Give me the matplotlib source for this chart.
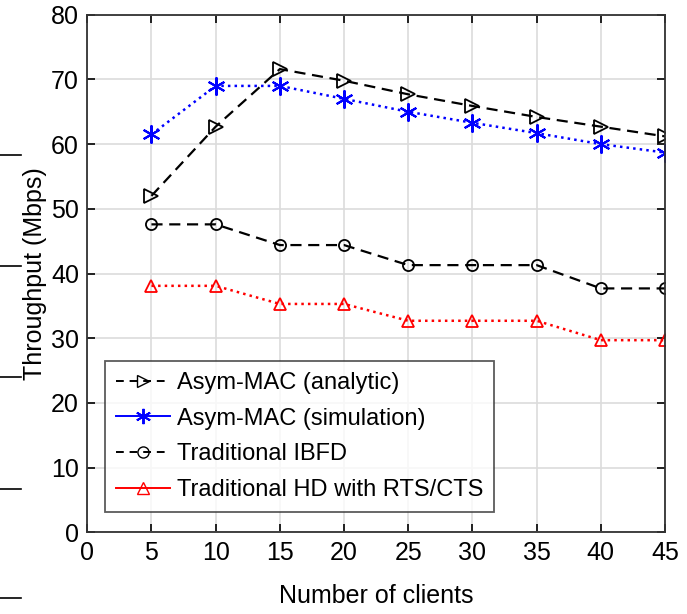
import matplotlib
matplotlib.use("Agg")
import matplotlib.pyplot as plt
from matplotlib.lines import Line2D

plt.rcParams['font.family'] = ['Liberation Sans Narrow', 'Liberation Sans', 'DejaVu Sans']

clients = [5, 10, 15, 20, 25, 30, 35, 40, 45]
asym_analytic = [52.0, 62.7, 71.6, 69.8, 67.7, 65.9, 64.2, 62.7, 61.2]
asym_sim = [61.5, 69.0, 69.0, 67.0, 65.0, 63.3, 61.7, 60.0, 58.7]
trad_ibfd = [47.6, 47.6, 44.4, 44.4, 41.3, 41.3, 41.3, 37.7, 37.7]
trad_hd = [38.1, 38.1, 35.3, 35.3, 32.7, 32.7, 32.7, 29.7, 29.7]

labels = ['Asym-MAC (analytic)', 'Asym-MAC (simulation)',
          'Traditional IBFD', 'Traditional HD with RTS/CTS']

asterisk = (6, 2, 0)

fig = plt.figure(figsize=(6.87, 6.14), dpi=100)
ax = fig.add_axes([0.127, 0.133, 0.841, 0.843])

ax.plot(clients, asym_analytic, color='black', ls=(0, (5, 3)), lw=1.6,
        marker='>', ms=10, mfc='none', mew=1.3)
ax.plot(clients, asym_sim, color='blue', ls=':', lw=1.8,
        marker=asterisk, ms=13, mfc='none', mew=1.5)
ax.plot(clients, trad_ibfd, color='black', ls=(0, (5, 3)), lw=1.6,
        marker='o', ms=8, mfc='none', mew=1.3)
ax.plot(clients, trad_hd, color='red', ls=':', lw=1.8,
        marker='^', ms=9, mfc='none', mew=1.3)

ax.set_xlim(0, 45)
ax.set_ylim(0, 80)
ax.set_xticks(range(0, 46, 5))
ax.set_yticks(range(0, 81, 10))
ax.grid(True, color='#dcdcdc', lw=1.2)
ax.set_axisbelow(True)
ax.tick_params(direction='in', top=True, right=True, length=6, width=1.2,
               labelsize=18, pad=6)
for s in ax.spines.values():
    s.set_linewidth(1.3)
    s.set_color('#333333')
ax.set_xlabel('Number of clients', fontsize=18, labelpad=14)
ax.set_ylabel('Throughput (Mbps)', fontsize=18, labelpad=3)

handles = [
    Line2D([], [], color='black', ls=(0, (4, 3)), lw=1.4, marker='>', ms=9, mfc='none'),
    Line2D([], [], color='blue', ls='-', lw=1.4, marker=asterisk, ms=11, mfc='none', mew=1.4),
    Line2D([], [], color='black', ls=(0, (4, 3)), lw=1.4, marker='o', ms=8, mfc='none'),
    Line2D([], [], color='red', ls='-', lw=1.4, marker='^', ms=9, mfc='none'),
]
leg = ax.legend(handles, labels, loc='lower left', bbox_to_anchor=(0.031, 0.04),
                fontsize=17, frameon=True, fancybox=False, handlelength=2.3,
                handletextpad=0.3, labelspacing=0.58, borderpad=0.45,
                borderaxespad=0)
leg.get_frame().set_edgecolor('#333333')
leg.get_frame().set_linewidth(1.3)

# stray tick marks from neighbouring figure at left edge
for yy in [0.748, 0.566, 0.386, 0.204, 0.026]:
    fig.add_artist(Line2D([0.0, 0.03], [yy, yy], color='black', lw=1.2))

fig.savefig('out.png', dpi=100)
